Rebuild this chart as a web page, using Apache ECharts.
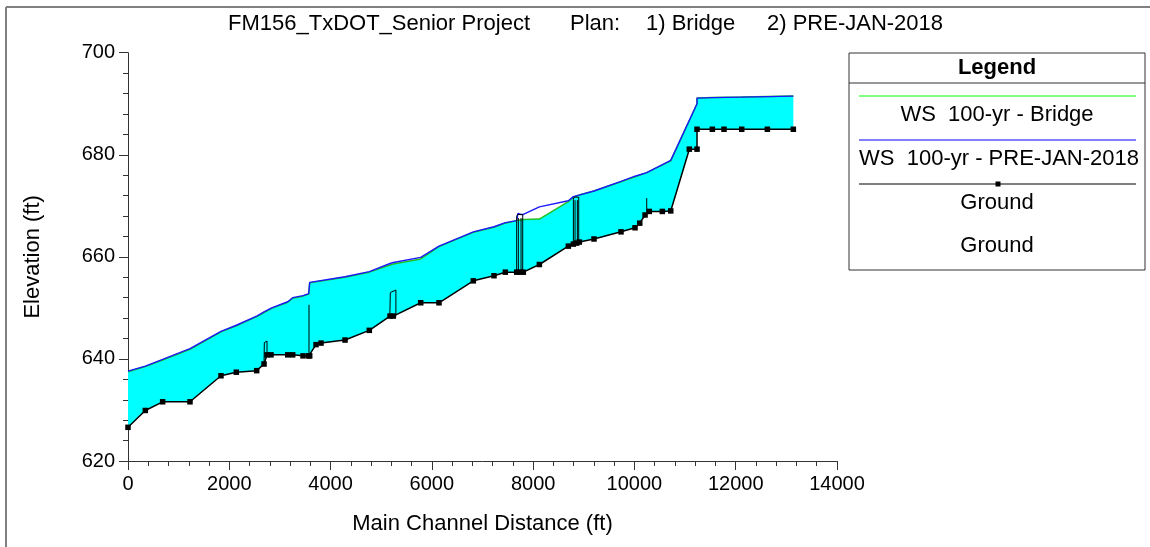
<!DOCTYPE html>
<html>
<head>
<meta charset="utf-8">
<script src="https://cdn.jsdelivr.net/npm/echarts@6/dist/echarts.min.js"></script>
<style>
html,body{margin:0;padding:0;background:#fff;}
#chart{width:1150px;height:547px;}
</style>
</head>
<body>
<div id="chart"></div>
<script>
// ---- data ----
const xTicks = [0, 2000, 4000, 6000, 8000, 10000, 12000, 14000];
const yTicks = [620, 640, 660, 680, 700];

const groundX = [0, 342, 684, 1224, 1836, 2139, 2541, 2686, 2745, 2824, 3154, 3252, 3456, 3568, 3588, 3713, 3811, 4285, 4765, 5174, 5240, 5780, 6141, 6819, 7227, 7451, 7675, 7740, 7806, 8123, 8695, 8794, 8860, 8912, 9202, 9735, 10012, 10105, 10210, 10294, 10551, 10717, 11084, 11236, 11236, 11539, 11769, 12119, 12625, 13138];
const groundY = [626.6, 629.9, 631.6, 631.6, 636.7, 637.4, 637.7, 639.0, 640.8, 640.8, 640.8, 640.8, 640.6, 640.6, 640.6, 642.8, 643.1, 643.7, 645.6, 648.4, 648.4, 651.0, 651.0, 655.3, 656.3, 657.0, 657.0, 657.0, 657.0, 658.5, 662.1, 662.5, 662.7, 662.9, 663.5, 664.9, 665.7, 666.6, 668.2, 668.9, 668.9, 669.0, 681.1, 681.1, 685.0, 685.0, 685.0, 685.0, 685.0, 685.0];

const wsBridgeX = [0, 342, 684, 1224, 1836, 2139, 2541, 2686, 2837, 3154, 3252, 3456, 3568, 3588, 4285, 4765, 5174, 5240, 5780, 6141, 6819, 7227, 7451, 7675, 7806, 8123, 8695, 8794, 8906, 9202, 9735, 10012, 10243, 10717, 11236, 11236, 11539, 12119, 13138];
const wsBridgeY = [637.5, 638.5, 639.8, 641.9, 645.3, 646.5, 648.3, 649.1, 649.9, 651.1, 651.9, 652.3, 652.7, 654.9, 656.0, 657.0, 658.4, 658.6, 659.6, 662.0, 664.8, 665.8, 666.6, 667.1, 667.3, 667.4, 670.8, 671.7, 672.1, 672.9, 674.7, 675.7, 676.5, 678.8, 690.0, 691.1, 691.2, 691.3, 691.5];

const wsPreX = [0, 342, 684, 1224, 1836, 2139, 2541, 2686, 2837, 3154, 3252, 3456, 3568, 3588, 4285, 4765, 5174, 5240, 5780, 6141, 6819, 7227, 7451, 7675, 7700, 7730, 7760, 7806, 8123, 8695, 8794, 8906, 9202, 9735, 10012, 10243, 10717, 11236, 11236, 11539, 12119, 13138];
const wsPreY = [637.6, 638.6, 639.9, 642.0, 645.4, 646.6, 648.4, 649.2, 650.0, 651.2, 652.0, 652.4, 652.8, 655.0, 656.1, 657.1, 658.7, 658.9, 659.9, 662.1, 664.9, 665.9, 666.7, 667.1, 668.5, 668.6, 668.3, 668.3, 669.8, 671.0, 671.8, 672.1, 672.9, 674.8, 675.8, 676.5, 678.9, 690.0, 691.1, 691.2, 691.3, 691.5];

// bridge deck / pier outlines (segments separated by null)
const bridgeX = [2686, 2692, 2745, 2745, null, 3574, 3574, null, 5170, 5180, 5290, 5290, null, 7675, 7675, 7690, 7794, 7794, null, 7708, 7708, null, 7761, 7761, null, 8794, 8794, 8810, 8900, 8900, null, 8827, 8827, null, 8873, 8873, null, 10243, 10243];
const bridgeY = [639.0, 643.2, 643.5, 640.8, null, 640.6, 650.6, null, 648.4, 653.0, 653.5, 648.5, null, 657.0, 667.9, 668.3, 668.3, 657.0, null, 657.0, 667.6, null, 657.0, 667.6, null, 662.5, 671.3, 671.7, 671.7, 662.9, null, 662.6, 671.1, null, 662.8, 671.1, null, 668.5, 671.5];

const zip = (xs, ys) => xs.map((x, i) => (x === null ? null : [x, ys[i]]));
const ground = zip(groundX, groundY);
const wsBridge = zip(wsBridgeX, wsBridgeY);
const wsPre = zip(wsPreX, wsPreY);
const bridge = zip(bridgeX, bridgeY).map(p => (p === null ? '-' : p));

const FONT = 'Liberation Sans, Arial, sans-serif';
const chart = echarts.init(document.getElementById('chart'), null, {renderer: 'canvas'});

const legendTexts = ['WS  100-yr - Bridge', 'WS  100-yr - PRE-JAN-2018', 'Ground', 'Ground'];

chart.setOption({
  animation: false,
  backgroundColor: '#ffffff',
  grid: {left: 128, right: 313, top: 52.7, bottom: 86, containLabel: false},
  xAxis: {
    type: 'value', min: xTicks[0], max: xTicks[xTicks.length - 1], interval: 2000,
    name: 'Main Channel Distance (ft)', nameLocation: 'middle', nameGap: 52,
    nameTextStyle: {fontFamily: FONT, fontSize: 22, color: '#000'},
    axisLine: {show: true, lineStyle: {color: '#333', width: 1}},
    axisTick: {show: true, length: 9, lineStyle: {color: '#333'}},
    minorTick: {show: true, splitNumber: 5, length: 5, lineStyle: {color: '#333'}},
    axisLabel: {fontFamily: FONT, fontSize: 20, color: '#000', margin: 13, formatter: v => String(v)},
    splitLine: {show: false}
  },
  yAxis: {
    type: 'value', min: yTicks[0], max: yTicks[yTicks.length - 1], interval: 20,
    name: 'Elevation (ft)', nameLocation: 'middle', nameGap: 84,
    nameTextStyle: {fontFamily: FONT, fontSize: 22, color: '#000'},
    axisLine: {show: true, lineStyle: {color: '#333', width: 1}},
    axisTick: {show: true, length: 9, lineStyle: {color: '#333'}},
    minorTick: {show: true, splitNumber: 5, length: 5, lineStyle: {color: '#333'}},
    axisLabel: {fontFamily: FONT, fontSize: 20, color: '#000', margin: 13, formatter: v => String(v)},
    splitLine: {show: false}
  },
  graphic: [
    {type: 'line', shape: {x1: 6, y1: 7, x2: 1150, y2: 7}, style: {stroke: '#808080', lineWidth: 2}, silent: true},
    {type: 'line', shape: {x1: 6, y1: 7, x2: 6, y2: 547}, style: {stroke: '#808080', lineWidth: 2}, silent: true},
    {type: 'text', left: 228, top: 13, style: {text: 'FM156_TxDOT_Senior Project', font: '22px ' + FONT, fill: '#000'}},
    {type: 'text', left: 570, top: 13, style: {text: 'Plan:', font: '22px ' + FONT, fill: '#000'}},
    {type: 'text', left: 646, top: 13, style: {text: '1) Bridge', font: '22px ' + FONT, fill: '#000'}},
    {type: 'text', left: 767, top: 13, style: {text: '2) PRE-JAN-2018', font: '22px ' + FONT, fill: '#000'}},
    // legend box
    {type: 'rect', shape: {x: 849, y: 53, width: 296, height: 217}, style: {fill: '#fff', stroke: '#333', lineWidth: 1}, z: 10},
    {type: 'line', shape: {x1: 849, y1: 83, x2: 1145, y2: 83}, style: {stroke: '#333', lineWidth: 1}, z: 11},
    {type: 'text', x: 997, y: 68, style: {text: 'Legend', font: 'bold 22px ' + FONT, fill: '#000', align: 'center', verticalAlign: 'middle'}, z: 11},
    {type: 'line', shape: {x1: 859, y1: 96, x2: 1136, y2: 96}, style: {stroke: '#00ff00', lineWidth: 1}, z: 11},
    {type: 'text', x: 997, y: 115, style: {text: legendTexts[0], font: '22px ' + FONT, fill: '#000', align: 'center', verticalAlign: 'middle'}, z: 11},
    {type: 'line', shape: {x1: 859, y1: 140, x2: 1136, y2: 140}, style: {stroke: '#0000ff', lineWidth: 1}, z: 11},
    {type: 'text', x: 999, y: 159, style: {text: legendTexts[1], font: '22px ' + FONT, fill: '#000', align: 'center', verticalAlign: 'middle'}, z: 11},
    {type: 'line', shape: {x1: 859, y1: 184, x2: 1136, y2: 184}, style: {stroke: '#000', lineWidth: 1}, z: 11},
    {type: 'rect', shape: {x: 995.5, y: 181.5, width: 5, height: 5}, style: {fill: '#000'}, z: 12},
    {type: 'text', x: 997, y: 203, style: {text: legendTexts[2], font: '22px ' + FONT, fill: '#000', align: 'center', verticalAlign: 'middle'}, z: 11},
    {type: 'text', x: 997, y: 246, style: {text: legendTexts[3], font: '22px ' + FONT, fill: '#000', align: 'center', verticalAlign: 'middle'}, z: 11}
  ],
  series: [
    {
      name: 'fill', type: 'custom', z: 1, silent: true,
      data: [[0, 0]],
      renderItem: function (params, api) {
        const top = wsBridge.map(p => api.coord(p));
        const bot = ground.slice().reverse().map(p => api.coord(p));
        return {type: 'polygon', shape: {points: top.concat(bot)}, style: {fill: '#00ffff', stroke: null}};
      }
    },
    {name: 'WS  100-yr - Bridge', type: 'line', data: wsBridge, z: 2, symbol: 'none', lineStyle: {color: '#22c022', width: 1.5}},
    {name: 'WS  100-yr - PRE-JAN-2018', type: 'line', data: wsPre, z: 3, symbol: 'none', lineStyle: {color: '#1a1aff', width: 1.4}},
    {name: 'Bridge outline', type: 'line', data: bridge, z: 4, symbol: 'none', connectNulls: false, lineStyle: {color: '#000', width: 1}},
    {name: 'Ground', type: 'line', data: ground, z: 5, symbol: 'rect', symbolSize: 5.5, itemStyle: {color: '#000'}, lineStyle: {color: '#000', width: 1.5}}
  ]
});
</script>
</body>
</html>
